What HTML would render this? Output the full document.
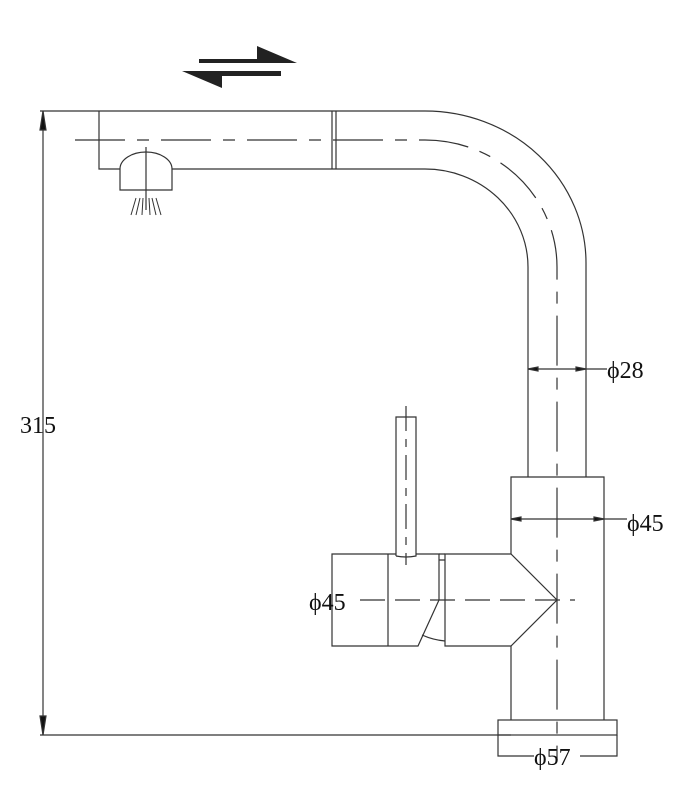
<!DOCTYPE html>
<html><head><meta charset="utf-8"><style>
html,body{margin:0;padding:0;background:#fff;}
svg{display:block;}
text{font-family:"Liberation Serif",serif;fill:#111;}
</style></head><body>
<svg width="699" height="810" viewBox="0 0 699 810" xmlns="http://www.w3.org/2000/svg">
<g fill="none" stroke="#333" stroke-width="1.2">
<!-- arrows top -->
<polygon points="199,59 257,59 257,46 297,63 199,63" fill="#222" stroke="none"/>
<polygon points="182,71 281,71 281,76 222,76 222,88" fill="#222" stroke="none"/>
<!-- dimension 315 -->
<line x1="43" y1="111" x2="43" y2="735"/>
<line x1="40" y1="111" x2="99" y2="111"/>
<line x1="40" y1="735" x2="511" y2="735"/>
<polygon points="43,111 40,130 46,130" fill="#111"/>
<polygon points="43,735 40,716 46,716" fill="#111"/>
<!-- spout -->
<line x1="99" y1="111" x2="425" y2="111"/>
<path d="M425,111 A161,152 0 0 1 586,263 L586,477"/>
<path d="M99,111 L99,169 L120,169"/>
<line x1="172" y1="169" x2="425" y2="169"/>
<path d="M425,169 A103,98 0 0 1 528,267 L528,477"/>
<line x1="332" y1="111" x2="332" y2="169"/>
<line x1="336" y1="111" x2="336" y2="169"/>
<path d="M75,140 L425,140 A132,127 0 0 1 557,267 L557,760" stroke-dasharray="50,12,12,12"/>
<!-- spray head -->
<path d="M120,190 L120,169 A26,17 0 0 1 172,169 L172,190 Z"/>
<line x1="146" y1="147" x2="146" y2="210"/>
<path d="M131,215 L136,198 M136,215 L140,198 M142,215 L143,198 M150,215 L149,198 M156,215 L152,198 M161,215 L156,198" stroke-width="1"/>
<!-- phi28 -->
<line x1="528" y1="369" x2="607" y2="369"/>
<polygon points="528,369 538,367 538,371" fill="#111"/>
<polygon points="586,369 576,367 576,371" fill="#111"/>
<!-- body -->
<path d="M511,554 L511,477 L604,477 L604,720"/>
<line x1="511" y1="646" x2="511" y2="720"/>
<line x1="511" y1="519" x2="604" y2="519"/>
<polygon points="511,519 521,517 521,521" fill="#111"/>
<polygon points="604,519 594,517 594,521" fill="#111"/>
<line x1="604" y1="519" x2="627" y2="519"/>
<rect x="498" y="720" width="119" height="15"/>
<path d="M498,735 L498,756 L534,756 M580,756 L617,756 L617,735"/>
<!-- middle block -->
<path d="M445,554 L511,554 L557,600 L511,646 L445,646 Z"/>
<!-- left block -->
<path d="M396,554 L332,554 L332,646 L418,646 L439,600 L439,554 L416,554"/>
<line x1="388" y1="554" x2="388" y2="646"/>
<path d="M439,554 L445,554 M439,560 L445,560"/>
<path d="M422,635 Q433,640 445,641"/>
<!-- handle -->
<path d="M396,556 L396,417 L416,417 L416,556 Q406,558 396,556"/>
<line x1="406" y1="406" x2="406" y2="565" stroke-dasharray="25,8,8,8"/>
<line x1="360" y1="600" x2="575" y2="600" stroke-dasharray="25,10"/>
</g>
<text x="20" y="433" font-size="24">315</text>
<text x="607" y="378" font-size="24">ϕ28</text>
<text x="627" y="531" font-size="24">ϕ45</text>
<text x="309" y="610" font-size="24">ϕ45</text>
<text x="534" y="765" font-size="24">ϕ57</text>
</svg>
</body></html>
